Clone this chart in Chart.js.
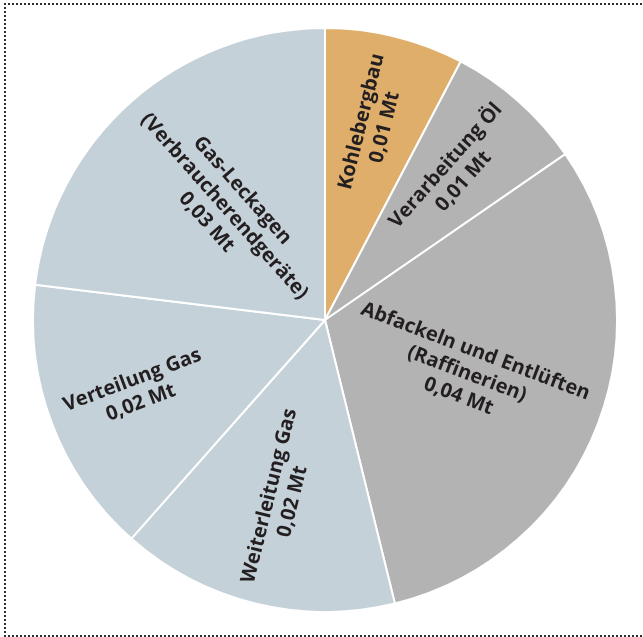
<!DOCTYPE html>
<html>
<head>
<meta charset="utf-8">
<script src="https://cdn.jsdelivr.net/npm/chart.js@4/dist/chart.umd.min.js"></script>
<style>
    html, body { margin: 0; padding: 0; background: #fff; overflow: hidden; }
    #frame {
        position: absolute; left: 4px; top: 3px;
        width: 700px; height: 630px;
        border: 2px dotted #2e2e2e; border-right: none;
    }
    #wrap { position: absolute; left: 0; top: 0; width: 643px; height: 637px; }
</style>
</head>
<body>
<div id="frame"></div>
<div id="wrap"><canvas id="chart1"></canvas></div>
<script>
// Methan-Emissionen nach Quelle (Mt)
const sources = ['Kohlebergbau', 'Verarbeitung Öl', 'Abfackeln und Entlüften', 'Weiterleitung Gas', 'Verteilung Gas', 'Gas-Leckagen']
const subtitles = ['', '', '(Raffinerien)', '', '', '(Verbraucherendgeräte)']
const emissions = [0.01, 0.01, 0.04, 0.02, 0.02, 0.03]
const sliceColors = ['#dfae6b', '#b3b3b3', '#b3b3b3', '#c5d1d9', '#c5d1d9', '#c5d1d9']

// how far out along the radius each label sits (fraction of radius)
const labelRadius = [0.69, 0.67, 0.52, 0.63, 0.69, 0.52]

const ctx1 = document.querySelector('#chart1').getContext('2d')

function fmt(v) {
    return v.toFixed(2).replace('.', ',') + ' Mt'
}

const sliceLabels = {
    id: 'sliceLabels',
    afterDatasetsDraw(chart) {
        const c = chart.ctx
        const arcs = chart.getDatasetMeta(0).data
        c.save()
        c.fillStyle = '#231f20'
        c.font = 'bold 20px "Open Sans"'
        c.textAlign = 'center'
        c.textBaseline = 'middle'
        arcs.forEach(function (arc, i) {
            const p = arc.getProps(['x', 'y', 'startAngle', 'endAngle', 'outerRadius'], true)
            const mid = (p.startAngle + p.endAngle) / 2
            const r = p.outerRadius * labelRadius[i]
            const x = p.x + Math.cos(mid) * r
            const y = p.y + Math.sin(mid) * r
            let rot = mid
            if (Math.cos(mid) < 0) rot += Math.PI
            const lines = [sources[i]]
            if (subtitles[i]) lines.push(subtitles[i])
            lines.push(fmt(emissions[i]))
            const lh = 24
            c.save()
            c.translate(x, y)
            c.rotate(rot)
            lines.forEach(function (t, k) {
                c.fillText(t, 0, (k - (lines.length - 1) / 2) * lh)
            })
            c.restore()
        })
        c.restore()
    }
}

new Chart(ctx1, {
    type: 'pie',
    data: {
        labels: sources,
        datasets: [{
            data: emissions,
            backgroundColor: sliceColors,
            borderColor: '#ffffff',
            borderWidth: 2
        }]
    },
    options: {
        responsive: true,
        maintainAspectRatio: false,
        animation: false,
        layout: { padding: { left: 32, right: 25, top: 27, bottom: 24 } },
        plugins: {
            legend: { display: false },
            tooltip: { enabled: false }
        }
    },
    plugins: [sliceLabels]
})
</script>
</body>
</html>
